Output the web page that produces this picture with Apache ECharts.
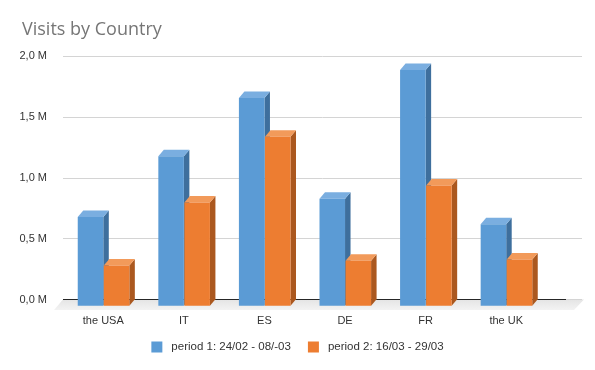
<!DOCTYPE html>
<html>
<head>
<meta charset="utf-8">
<script src="https://cdn.jsdelivr.net/npm/echarts@6/dist/echarts.min.js"></script>
<style>
html,body{margin:0;padding:0;background:#fff;}
#chart{width:595px;height:370px;}
</style>
</head>
<body>
<div id="chart"></div>
<script>
const categories = ['the USA', 'IT', 'ES', 'DE', 'FR', 'the UK'];
const period1 = [0.73, 1.23, 1.71, 0.88, 1.94, 0.67];
const period2 = [0.33, 0.85, 1.39, 0.37, 0.99, 0.38];
const seriesNames = ['period 1: 24/02 - 08/-03', 'period 2: 16/03 - 29/03'];
const yTicks = [0, 0.5, 1.0, 1.5, 2.0];

const palette = [
  { front: '#5b9bd5', top: '#7aaee0', side: '#3e6f9d' },
  { front: '#ed7d31', top: '#f29a5a', side: '#ab581f' }
];
const DX = 5.5, DY = -6.5;

function makeRender(k) {
  return function (params, api) {
    const idx = api.value(0);
    const val = api.value(1);
    const base = api.coord([idx, 0]);
    const top = api.coord([idx, val]);
    const bandW = api.size([1, 0])[0];
    const barW = bandW * 0.317;
    const left = k === 0 ? base[0] - barW : base[0] + 0.5;
    const ty = top[1], by = base[1];
    const c = palette[k];
    return {
      type: 'group',
      children: [
        { type: 'polygon', shape: { points: [[left + barW, ty], [left + barW + DX, ty + DY], [left + barW + DX, by + DY], [left + barW, by]] }, style: { fill: c.side } },
        { type: 'polygon', shape: { points: [[left, ty], [left + DX, ty + DY], [left + barW + DX, ty + DY], [left + barW, ty]] }, style: { fill: c.top } },
        { type: 'rect', shape: { x: left, y: ty, width: barW, height: by - ty }, style: { fill: c.front } }
      ]
    };
  };
}

const chart = echarts.init(document.getElementById('chart'), null, { renderer: 'canvas' });
const font = 'Liberation Sans, Arial, sans-serif';
chart.setOption({
  animation: false,
  backgroundColor: '#ffffff',
  title: {
    text: 'Visits by Country', left: 17, top: 16,
    textStyle: { fontFamily: 'Open Sans', fontSize: 18, fontWeight: 'normal', color: '#767676' }
  },
  legend: {
    left: 'center', top: 336, itemWidth: 11, itemHeight: 11, itemGap: 17,
    textStyle: { fontFamily: font, fontSize: 11.5, color: '#333', padding: [0, 0, 0, 4] },
    data: [
      { name: seriesNames[0], icon: 'rect', itemStyle: { color: palette[0].front } },
      { name: seriesNames[1], icon: 'rect', itemStyle: { color: palette[1].front } }
    ]
  },
  graphic: [
    { type: 'polygon', z: 0, shape: { points: [[63, 299.5], [584, 299.5], [574, 310], [54, 310]] },
      style: { fill: new echarts.graphic.LinearGradient(0, 0, 0, 1, [{ offset: 0, color: '#e4e4e4' }, { offset: 1, color: '#f3f3f3' }]) } },
    { type: 'line', z: 1, shape: { x1: 63, y1: 299.5, x2: 566, y2: 299.5 }, style: { stroke: '#262626', lineWidth: 1 } }
  ],
  grid: [
    { left: 63, right: 13, top: 56, bottom: 70.5 },
    { left: 63, right: 48.5, top: 62.7, bottom: 64.3 }
  ],
  xAxis: [
    { gridIndex: 0, type: 'category', data: categories, show: false },
    { gridIndex: 1, type: 'category', data: categories,
      axisLine: { show: false }, axisTick: { show: false },
      axisLabel: { margin: 10, fontFamily: font, fontSize: 11, color: '#333' } }
  ],
  yAxis: [
    { gridIndex: 0, type: 'value', min: yTicks[0], max: yTicks[yTicks.length - 1], interval: 0.5,
      axisLine: { show: false }, axisTick: { show: false },
      axisLabel: { margin: 16, fontFamily: font, fontSize: 11, color: '#333',
        formatter: v => v.toFixed(1).replace('.', ',') + ' M' },
      splitLine: { lineStyle: { color: '#d4d4d4', width: 1 } } },
    { gridIndex: 1, type: 'value', min: 0, max: 2, show: false, splitLine: { show: false } }
  ],
  series: [
    { name: seriesNames[0], type: 'custom', xAxisIndex: 1, yAxisIndex: 1, z: 5,
      itemStyle: { color: palette[0].front },
      renderItem: makeRender(0), data: period1.map((v, i) => [i, v]) },
    { name: seriesNames[1], type: 'custom', xAxisIndex: 1, yAxisIndex: 1, z: 6,
      itemStyle: { color: palette[1].front },
      renderItem: makeRender(1), data: period2.map((v, i) => [i, v]) }
  ]
});
</script>
</body>
</html>
